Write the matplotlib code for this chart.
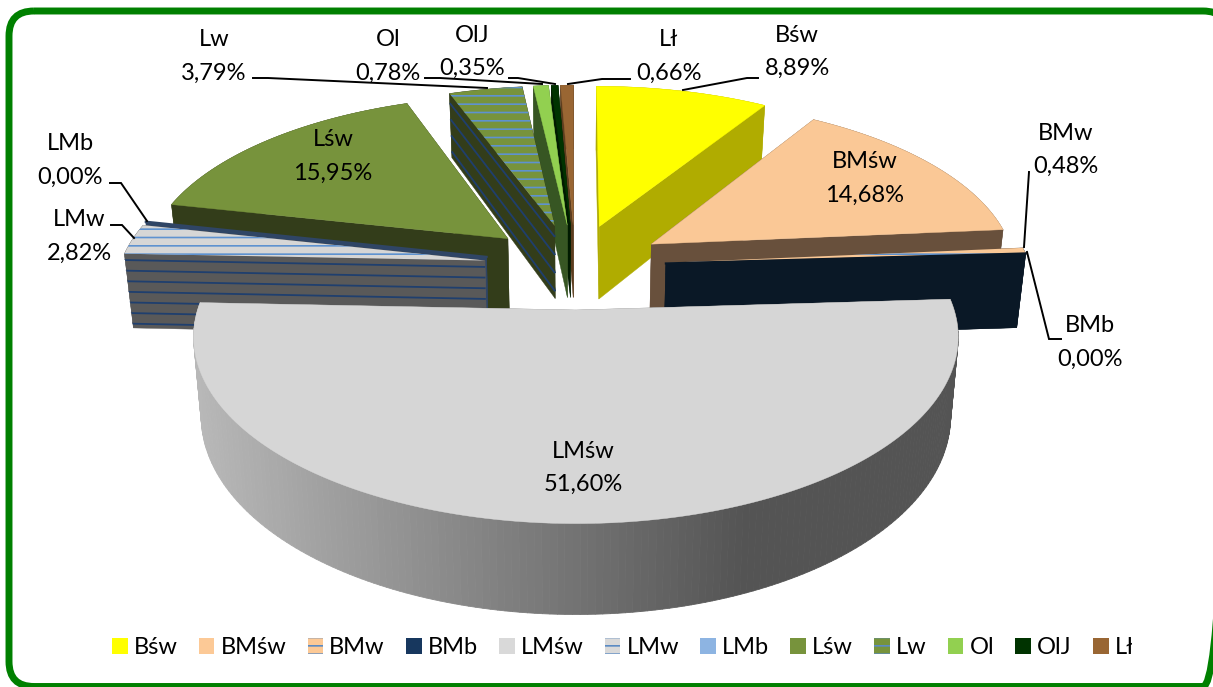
import numpy as np
import matplotlib
matplotlib.use("Agg")
import matplotlib.pyplot as plt
from matplotlib.patches import Polygon, Patch, FancyBboxPatch, Rectangle
from matplotlib.collections import PolyCollection

categories = ["Bśw", "BMśw", "BMw", "BMb", "LMśw", "LMw", "LMb", "Lśw", "Lw", "Ol", "OlJ", "Lł"]
values = [8.89, 14.68, 0.48, 0.00, 51.60, 2.82, 0.00, 15.95, 3.79, 0.78, 0.35, 0.66]
top_colors = ["#FFFF00", "#FAC896", "#FAC896", "#17375E", "#D6D6D6", "#D6D6D6", "#8DB4E2", "#77933C", "#77933C", "#92D050", "#003300", "#996633"]
legend_colors = ["#FFFF00", "#FCC996", "#FCC996", "#17375E", "#D9D9D9", "#D9D9D9", "#8DB4E2", "#77933C", "#77933C", "#92D050", "#003300", "#996633"]
wall_colors = ["#B0AC00", "#68503C", "#68503C", "#0A1826", "#808080", "#595959", "#2F4565", "#333D1A", "#333D1A", "#375623", "#001A00", "#5C3D1E"]
striped = ["BMw", "LMw", "Lw"]
stripe_count = {"BMw": 4, "LMw": 7, "Lw": 4}
label_pos = {"Bśw": (797, 35), "BMśw": (865, 162), "BMw": (1066, 133), "BMb": (1090, 326),
             "LMśw": (583, 451), "LMw": (79, 220), "LMb": (70, 144), "Lśw": (333, 140),
             "Lw": (214, 40), "Ol": (388, 40), "OlJ": (472, 35), "Lł": (669, 40)}
leaders = [[(253, 78), (268, 78), (487, 88)], [(425, 78), (440, 78), (542, 84)],
           [(509, 78), (518, 78), (555, 84)], [(568, 84), (602, 79), (630, 79)],
           [(683, 90), (747, 78), (758, 78)], [(1029, 172), (1024, 247)],
           [(1027, 252), (1049, 339), (1061, 339)], [(110, 183), (121, 183), (147, 221)],
           [(111, 225), (122, 225), (134, 238)]]

# pie projection parameters (pixels)
CX, CY, A, B, K, EXPL, H, SHRINK = 575, 266, 365, 170, 0.14, 0.25, 75, 0.98
FS = 17

plt.rcParams["font.family"] = ["Lato", "DejaVu Sans"]
plt.rcParams["hatch.linewidth"] = 1.2
fig = plt.figure(figsize=(12.13, 6.87), dpi=100)
ax = fig.add_axes([0, 0, 1, 1])
ax.set_xlim(0, 1213)
ax.set_ylim(687, 0)
ax.axis("off")


def proj(u, v, bottom=False):
    u, v = np.asarray(u, float), np.asarray(v, float)
    w = 1 + K * v
    x = CX + A * u / w
    y = CY - B * v / w
    if bottom:
        x = CX + SHRINK * (x - CX)
        y = y + H / w
    return np.column_stack([np.atleast_1d(x), np.atleast_1d(y)])


z = [10]


def nz():
    z[0] += 1
    return z[0]


def wall(top, bot, color, name):
    poly = np.vstack([top, bot[::-1]])
    ax.add_patch(Polygon(poly, closed=True, facecolor=color, edgecolor=color, lw=0.3, zorder=nz()))
    if name in striped:
        n = stripe_count[name]
        for t in (np.arange(n) + 0.6) / n:
            pts = (1 - t) * top + t * bot
            ax.plot(pts[:, 0], pts[:, 1], color="#1F3F6E", lw=1.3, zorder=nz(), solid_capstyle="butt")


shares = np.array(values) / sum(values) * 360
ends = np.cumsum(shares)
starts = ends - shares
mids = (starts + ends) / 2
order = np.argsort(-np.cos(np.radians(mids)))

for i in order:
    name = categories[i]
    a0, a1, m = starts[i], ends[i], mids[i]
    ou, ov = EXPL * np.sin(np.radians(m)), EXPL * np.cos(np.radians(m))
    n = max(2, int(shares[i]) + 2)
    th = np.radians(np.linspace(a0, a1, n))
    ru, rv = ou + np.sin(th), ov + np.cos(th)
    rim_t, rim_b = proj(ru, rv), proj(ru, rv, True)
    ap_t, ap_b = proj(ou, ov), proj(ou, ov, True)
    f0 = (np.vstack([ap_t, rim_t[:1]]), np.vstack([ap_b, rim_b[:1]]))
    f1 = (np.vstack([ap_t, rim_t[-1:]]), np.vstack([ap_b, rim_b[-1:]]))
    faces = [f0, f1] if m < 180 else [f1, f0]
    if name != "LMśw":
        wall(rim_t, rim_b, wall_colors[i], name)
    for top, bot in faces:
        wall(top, bot, wall_colors[i], name)
    if name == "LMśw":
        quads, cols = [], []
        for j in range(n - 1):
            quads.append([rim_t[j], rim_t[j + 1], rim_b[j + 1], rim_b[j]])
            xm = (rim_t[j, 0] + rim_t[j + 1, 0]) / 2
            g = np.interp(xm, [195, 744, 960], [0xB8, 0x54, 0x54]) / 255
            cols.append((g, g, g))
        ax.add_collection(PolyCollection(quads, facecolors=cols, edgecolors=cols, linewidths=0.6, zorder=nz()))
    if shares[i] > 0:
        pts = np.vstack([ap_t, rim_t])
        if name in striped:
            ax.add_patch(Polygon(pts, closed=True, facecolor=top_colors[i], edgecolor="#5E92D0",
                                 lw=0, hatch="--", zorder=nz()))
        else:
            ax.add_patch(Polygon(pts, closed=True, facecolor=top_colors[i], edgecolor=top_colors[i],
                                 lw=0.3, zorder=nz()))
    else:
        pts = np.vstack([ap_t, rim_t[:1]])
        ax.plot(pts[:, 0], pts[:, 1], color=wall_colors[i], lw=1.6, zorder=nz())

for pts in leaders:
    p = np.array(pts)
    ax.plot(p[:, 0], p[:, 1], color="black", lw=1.4, zorder=500, solid_joinstyle="miter")

for name, val in zip(categories, values):
    x, y = label_pos[name]
    ax.text(x, y, name, ha="center", va="center", fontsize=FS, color="black", zorder=600)
    ax.text(x, y + 33.5, f"{val:.2f}%".replace(".", ","), ha="center", va="center",
            fontsize=FS, color="black", zorder=600)

handles = []
for name, c in zip(categories, legend_colors):
    if name in striped:
        handles.append(Patch(facecolor=c, edgecolor="#5B8BC4", lw=0, hatch="--", label=name))
    else:
        handles.append(Patch(facecolor=c, edgecolor=c, lw=0, label=name))
leg = ax.legend(handles=handles, ncols=12, frameon=False, fontsize=FS, loc="center left",
                bbox_to_anchor=(112, 648), bbox_transform=ax.transData,
                handlelength=0.66, handleheight=0.66, handletextpad=0.26, columnspacing=0.9,
                borderpad=0, borderaxespad=0)
leg.set_zorder(550)
ax.add_patch(Rectangle((1132, 630), 25, 35, facecolor="white", edgecolor="none", zorder=560))

ax.add_patch(FancyBboxPatch((9, 11), 1219, 675.5, boxstyle="round,pad=0,rounding_size=25",
                            facecolor="none", edgecolor="#008000", lw=5, zorder=700))

fig.savefig("out.png", dpi=100)
